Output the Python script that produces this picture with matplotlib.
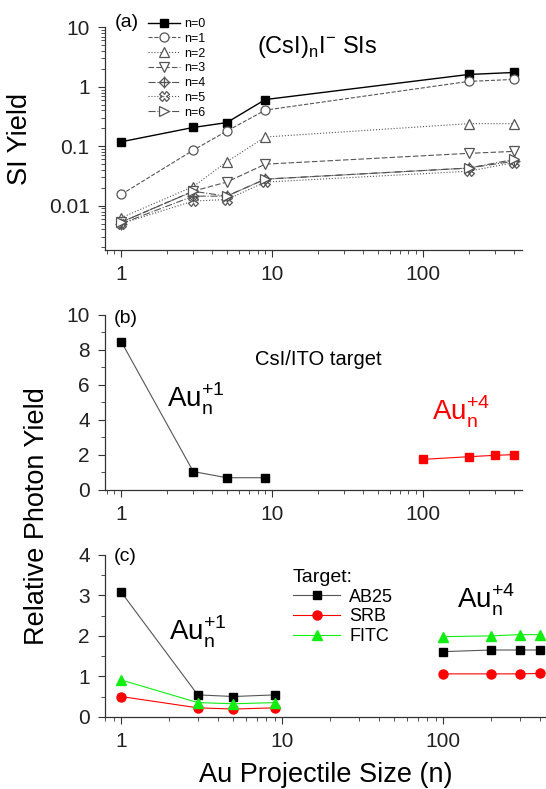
import numpy as np
import matplotlib
matplotlib.use('Agg')
from matplotlib import pyplot as plt
from matplotlib.ticker import FixedLocator, LogLocator, MultipleLocator, NullFormatter, FuncFormatter

plt.rcParams['font.family'] = ['Liberation Sans', 'DejaVu Sans']
plt.rcParams['mathtext.fontset'] = 'custom'
plt.rcParams['mathtext.rm'] = 'Liberation Sans'

# (a) 二次离子产额, 横坐标为 Au 团簇大小
x_a = [1, 3, 5, 9, 200, 400]
yield_n0 = [0.119, 0.207, 0.25, 0.61, 1.61, 1.74]
yield_n1 = [0.0155, 0.086, 0.18, 0.405, 1.23, 1.33]
yield_n2 = [0.0063, 0.021, 0.055, 0.143, 0.24, 0.24]
yield_n3 = [0.0053, 0.0176, 0.025, 0.05, 0.076, 0.082]
yield_n4 = [0.005, 0.0145, 0.0145, 0.028, 0.043, 0.056]
yield_n5 = [0.005, 0.012, 0.0127, 0.025, 0.038, 0.053]
yield_n6 = [0.0053, 0.0175, 0.0145, 0.028, 0.043, 0.06]
labels_a = ['n=0', 'n=1', 'n=2', 'n=3', 'n=4', 'n=5', 'n=6']

# (b) CsI/ITO 光子产额
x_au1 = [1, 3, 5, 9]
x_au4 = [100, 200, 300, 400]
csi_au1 = [8.47, 1.05, 0.7, 0.7]
csi_au4 = [1.75, 1.9, 1.98, 2.02]

# (c) 三种染料靶
ab25_au1 = [3.09, 0.54, 0.5, 0.54]
srb_au1 = [0.5, 0.22, 0.19, 0.22]
fitc_au1 = [0.91, 0.35, 0.32, 0.35]
ab25_au4 = [1.61, 1.65, 1.65, 1.65]
srb_au4 = [1.06, 1.06, 1.06, 1.07]
fitc_au4 = [1.98, 2.0, 2.03, 2.03]

GRAY = '#555555'
GREEN = '#11ee11'


def style_axis(ax):
    for s in ['top', 'right']:
        ax.spines[s].set_visible(False)
    for s in ['left', 'bottom']:
        ax.spines[s].set_color('#333333')
        ax.spines[s].set_linewidth(0.9)
    ax.tick_params(which='major', direction='out', length=5, width=0.8,
                   labelsize=15, pad=6, colors='#333333', labelcolor='#222222')
    ax.tick_params(which='minor', direction='out', length=3, width=0.6, colors='#333333')
    ax.set_xscale('log')
    ax.xaxis.set_major_locator(FixedLocator([1, 10, 100]))
    ax.xaxis.set_major_formatter(FuncFormatter(lambda v, p: '%d' % v))
    ax.xaxis.set_minor_locator(LogLocator(base=10, subs=np.arange(2, 10)))
    ax.xaxis.set_minor_formatter(NullFormatter())


fig = plt.figure(figsize=(5.46, 7.89), dpi=100)

# ---------------- (a) ----------------
ax1 = fig.add_axes([0.1923, 0.6831, 0.7632, 0.2823])
style_axis(ax1)
ax1.set_yscale('log')
ax1.set_xlim(0.78, 450)
ax1.set_ylim(0.0018, 10)
ax1.yaxis.set_major_locator(FixedLocator([0.01, 0.1, 1, 10]))
ax1.yaxis.set_major_formatter(FuncFormatter(lambda v, p: {0.01: '0.01', 0.1: '0.1', 1: '1', 10: '10'}.get(round(v, 3), '')))
ax1.yaxis.set_minor_locator(LogLocator(base=10, subs=np.arange(2, 10)))
ax1.yaxis.set_minor_formatter(NullFormatter())

h0, = ax1.plot(x_a, yield_n0, '-', c='black', lw=1.0, marker='s', ms=5.5, mfc='black', mec='black')
h1, = ax1.plot(x_a, yield_n1, '--', c=GRAY, lw=0.8, marker='o', ms=6.5, mfc='white', mec=GRAY, mew=0.9)
h2, = ax1.plot(x_a, yield_n2, ':', c=GRAY, lw=0.8, marker='^', ms=7, mfc='white', mec=GRAY, mew=0.9)
h3, = ax1.plot(x_a, yield_n3, ls=(0, (5, 2)), c=GRAY, lw=0.8, marker='v', ms=7, mfc='white', mec=GRAY, mew=0.9)
h4a, = ax1.plot(x_a, yield_n4, '-.', c=GRAY, lw=0.8, marker='D', ms=5.5, mfc='none', mec=GRAY, mew=0.9)
h4b, = ax1.plot(x_a, yield_n4, ls='none', marker='+', ms=8, mec=GRAY, mew=0.9)
h5, = ax1.plot(x_a, yield_n5, ':', c=GRAY, lw=0.8, marker='X', ms=7, mfc='none', mec=GRAY, mew=0.9)
h6, = ax1.plot(x_a, yield_n6, '-.', c=GRAY, lw=0.8, marker='>', ms=7, mfc='white', mec=GRAY, mew=0.9)

ax1.legend([h0, h1, h2, h3, (h4a, h4b), h5, h6], labels_a, loc='upper left',
           bbox_to_anchor=(0.085, 1.075), frameon=False, fontsize=9,
           handlelength=2.6, labelspacing=0.22, handletextpad=0.3, borderpad=0.1)
ax1.text(0.024, 1.02, '(a)', transform=ax1.transAxes, fontsize=14, va='center', ha='left')
ax1.text(7.9, 4.7, r'(CsI)$_\mathregular{n}$I$^\mathregular{-}$ SIs', fontsize=17, va='center', ha='left')
ax1.set_ylabel('SI Yield', fontsize=19.5)
ax1.yaxis.set_label_coords(-0.172, 0.5)

# ---------------- (b) ----------------
ax2 = fig.add_axes([0.1923, 0.379, 0.7632, 0.2218])
style_axis(ax2)
ax2.set_xlim(0.78, 450)
ax2.set_ylim(0, 10)
ax2.yaxis.set_major_locator(MultipleLocator(2))
ax2.yaxis.set_minor_locator(MultipleLocator(1))
ax2.plot(x_au1, csi_au1, '-', c=GRAY, lw=0.8, marker='s', ms=6, mfc='black', mec='black')
ax2.plot(x_au4, csi_au4, '-', c='red', lw=0.8, marker='s', ms=6, mfc='red', mec='red')
ax2.text(0.02, 0.98, '(b)', transform=ax2.transAxes, fontsize=14, va='center', ha='left')
ax2.text(7.7, 7.43, 'CsI/ITO target', fontsize=14.5, va='center', ha='left')
ax2.text(2.0, 4.74, r'Au$_\mathregular{n}^\mathregular{+1}$', fontsize=20, va='baseline', ha='left')
ax2.text(114, 4.0, r'Au$_\mathregular{n}^\mathregular{+4}$', fontsize=20, va='baseline', ha='left', color='red')
ax2.set_ylabel('Relative Photon Yield', fontsize=19.5)
ax2.yaxis.set_label_coords(-0.132, -0.149)

# ---------------- (c) ----------------
ax3 = fig.add_axes([0.1923, 0.0916, 0.8116, 0.205])
style_axis(ax3)
ax3.set_xlim(0.796, 450)
ax3.set_ylim(0, 4)
ax3.yaxis.set_major_locator(MultipleLocator(1))
ax3.yaxis.set_minor_locator(MultipleLocator(0.5))
l_ab, = ax3.plot(x_au1, ab25_au1, '-', c=GRAY, lw=0.8, marker='s', ms=5.5, mfc='black', mec='black')
l_srb, = ax3.plot(x_au1, srb_au1, '-', c='red', lw=0.8, marker='o', ms=6.5, mfc='red', mec='red')
l_fitc, = ax3.plot(x_au1, fitc_au1, '-', c=GREEN, lw=0.8, marker='^', ms=7.5, mfc=GREEN, mec=GREEN)
ax3.plot(x_au4, ab25_au4, '-', c=GRAY, lw=0.8, marker='s', ms=5.5, mfc='black', mec='black')
ax3.plot(x_au4, srb_au4, '-', c='red', lw=0.8, marker='o', ms=6.5, mfc='red', mec='red')
ax3.plot(x_au4, fitc_au4, '-', c=GREEN, lw=0.8, marker='^', ms=7.5, mfc=GREEN, mec=GREEN)

leg = ax3.legend([l_ab, l_srb, l_fitc], ['AB25', 'SRB', 'FITC'], title='Target:',
                 loc='upper left', bbox_to_anchor=(0.40, 0.98), frameon=False,
                 fontsize=13, title_fontsize=14, handlelength=2.6, labelspacing=0.15,
                 handletextpad=0.5, borderpad=0.1, alignment='left')
ax3.text(0.02, 0.99, '(c)', transform=ax3.transAxes, fontsize=14, va='center', ha='left')
ax3.text(2.0, 1.9, r'Au$_\mathregular{n}^\mathregular{+1}$', fontsize=20, va='baseline', ha='left')
ax3.text(122, 2.69, r'Au$_\mathregular{n}^\mathregular{+4}$', fontsize=20, va='baseline', ha='left')

fig.text(326 / 546, 1 - 775 / 789, 'Au Projectile Size (n)', fontsize=19.5, ha='center', va='center')

fig.savefig('out.png', dpi=100)
